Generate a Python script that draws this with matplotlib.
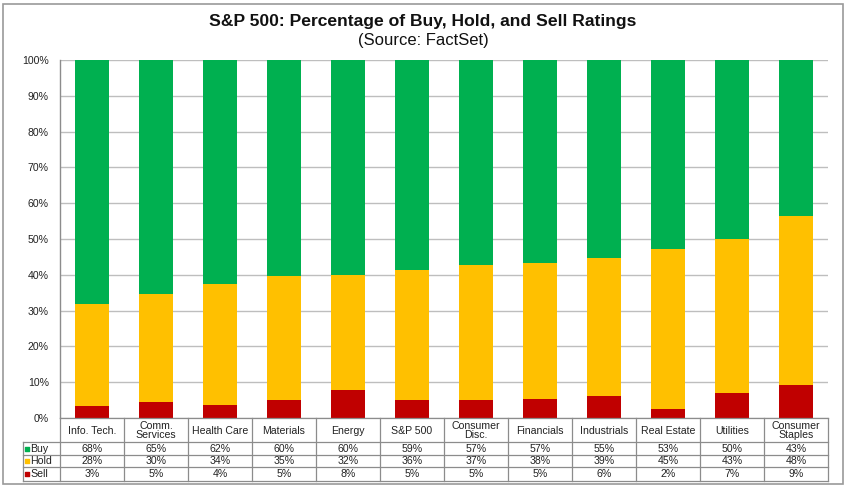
import matplotlib
matplotlib.use("Agg")
import matplotlib.pyplot as plt
from matplotlib.patches import Rectangle
import numpy as np

plt.rcParams['font.family'] = ['Liberation Sans', 'DejaVu Sans']

# 行业类别
sectors = ["Info. Tech.", "Comm.\nServices", "Health Care", "Materials", "Energy",
           "S&P 500", "Consumer\nDisc.", "Financials", "Industrials", "Real Estate",
           "Utilities", "Consumer\nStaples"]

# 柱子高度
sell_bar = [3.3, 4.5, 3.6, 5.0, 7.8, 5.1, 5.1, 5.3, 6.1, 2.5, 7.0, 9.2]
hold_bar = [28.5, 30.1, 33.8, 34.7, 32.2, 36.2, 37.6, 38.0, 38.6, 44.7, 43.0, 47.2]
buy_bar = [68.2, 65.4, 62.6, 60.3, 60.0, 58.7, 57.3, 56.7, 55.3, 52.8, 50.0, 43.6]

# 表格中的数值
buy_tbl = [68, 65, 62, 60, 60, 59, 57, 57, 55, 53, 50, 43]
hold_tbl = [28, 30, 34, 35, 32, 36, 37, 38, 39, 45, 43, 48]
sell_tbl = [3, 5, 4, 5, 8, 5, 5, 5, 6, 2, 7, 9]

GREEN = "#00B050"
GOLD = "#FFC000"
RED = "#C00000"
GRID = "#BEBEBE"
LINE = "#8C8C8C"
TXT = "#222222"

W, H = 848, 491
fig = plt.figure(figsize=(W / 100, H / 100), dpi=100)

# 外框
fig.patches.append(Rectangle((3 / W, 1 - 484 / H), 840 / W, 480 / H, transform=fig.transFigure,
                             fill=False, edgecolor="#9A9A9A", linewidth=1.2))

fig.text(423 / W, 1 - 21.5 / H, "S&P 500: Percentage of Buy, Hold, and Sell Ratings",
         ha="center", va="center", fontsize=12.6, fontweight="bold", color="#111111")
fig.text(423 / W, 1 - 40.5 / H, "(Source: FactSet)", ha="center", va="center",
         fontsize=12, color="#111111")

# 主图
px_l, px_r, px_t, px_b = 60, 828, 60, 418
ax = fig.add_axes([px_l / W, 1 - px_b / H, (px_r - px_l) / W, (px_b - px_t) / H])
x = np.arange(len(sectors))
sell = np.array(sell_bar)
hold = np.array(hold_bar)
buy = np.array(buy_bar)
ax.bar(x, sell, width=0.52, color=RED, zorder=3)
ax.bar(x, hold, width=0.52, bottom=sell, color=GOLD, zorder=3)
ax.bar(x, buy, width=0.52, bottom=sell + hold, color=GREEN, zorder=3)

ax.set_xlim(-0.5, len(sectors) - 0.5)
ax.set_ylim(0, 100)
ax.set_yticks(np.arange(0, 101, 10))
ax.set_yticklabels([f"{v}%" for v in range(0, 101, 10)])
ax.set_xticks([])
ax.tick_params(axis="y", length=0, pad=8, labelsize=7.6, labelcolor=TXT)
ax.yaxis.grid(True, color=GRID, linewidth=1.0, zorder=0)
for s in ["top", "right", "bottom"]:
    ax.spines[s].set_visible(False)
ax.spines["left"].set_color(LINE)
ax.spines["left"].set_linewidth(1.0)

# 数据表
tl = 22.7
tab = fig.add_axes([tl / W, 1 - 481 / H, (px_r - tl) / W, (481 - 418) / H])
x_left = -0.5 - (px_l - tl) / 64.0
n = len(sectors)
tab.set_xlim(x_left, n - 0.5)
row_edges = [0, 24, 37, 49, 63]
tab.set_ylim(row_edges[-1], row_edges[0])
tab.axis("off")

lw = 0.9
for yv in row_edges[1:]:
    tab.plot([x_left, n - 0.5], [yv, yv], color=LINE, lw=lw, clip_on=False)
tab.plot([-0.5, n - 0.5], [0, 0], color=LINE, lw=lw, clip_on=False)
tab.plot([x_left, x_left], [row_edges[1], row_edges[-1]], color=LINE, lw=lw, clip_on=False)
for b in np.arange(-0.5, n, 1.0):
    tab.plot([b, b], [0, row_edges[-1]], color=LINE, lw=lw, clip_on=False)

for i, name in enumerate(sectors):
    tab.text(i, 12.5, name, ha="center", va="center", fontsize=7.6, color=TXT,
             linespacing=0.95)

rows = [("Buy", GREEN, buy_tbl), ("Hold", GOLD, hold_tbl), ("Sell", RED, sell_tbl)]
for r, (lab, col, vals) in enumerate(rows):
    yc = (row_edges[r + 1] + row_edges[r + 2]) / 2
    tab.scatter([x_left + 0.07], [yc], marker="s", s=10, color=col, clip_on=False)
    tab.text(x_left + 0.12, yc, lab, ha="left", va="center", fontsize=7.6, color=TXT)
    for i, v in enumerate(vals):
        tab.text(i, yc, f"{v}%", ha="center", va="center", fontsize=7.6, color=TXT)

fig.savefig("out.png", dpi=100)
